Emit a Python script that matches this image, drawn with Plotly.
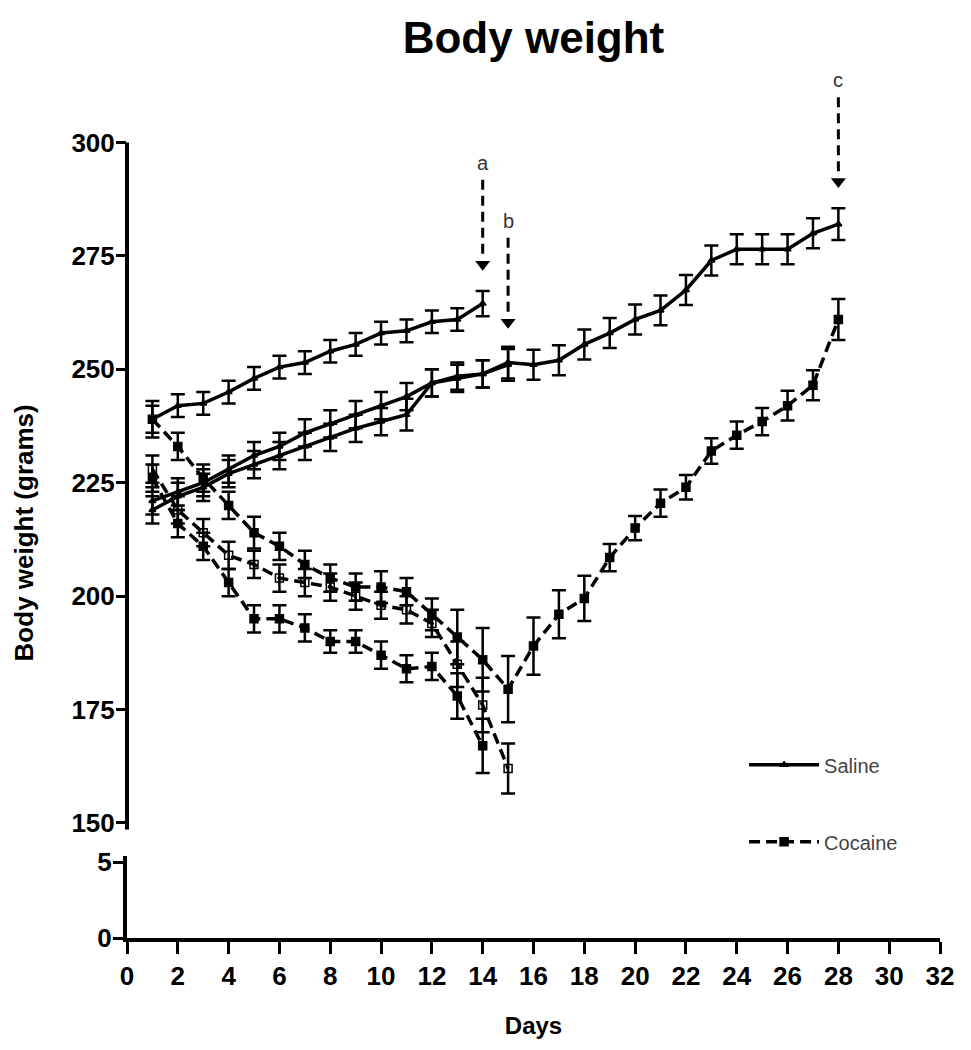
import plotly.graph_objects as go

# days on study
days = list(range(1, 29))

# saline groups: a (killed day 14), b (day 15), c (day 28)
saline_a = [239, 242, 242.5, 245, 248, 250.5, 251.5, 254, 255.5, 258, 258.5, 260.5, 261, 264.5]
saline_a_err = [3, 2.5, 2.5, 2.5, 2.5, 2.5, 2.5, 2.5, 2.5, 2.5, 2.5, 2.5, 2.5, 2.8]
saline_b = [221, 223, 225, 228, 231, 233, 236, 238, 240, 242, 244, 247, 248, 249, 251]
saline_b_err = [3, 3, 3, 3, 3, 3, 3, 3, 3, 3, 3, 3, 3, 3, 3.5]
saline_c = [219, 222, 224, 227, 229, 231, 233, 235, 237, 238.5, 240, 247, 248.5, 249, 251.5,
            251, 252, 255.5, 258, 261, 263, 267.5, 274, 276.5, 276.5, 276.5, 280, 282]
saline_c_err = [3, 3, 3, 3, 3, 3, 3, 3, 3, 3, 3.5, 3, 3, 3, 3.5,
                3.3, 3.3, 3.3, 3.3, 3.3, 3.3, 3.3, 3.3, 3.3, 3.3, 3.3, 3.3, 3.5]

# cocaine groups
cocaine_a = [226, 216, 211, 203, 195, 195, 193, 190, 190, 187, 184, 184.5, 178, 167]
cocaine_a_err = [3, 3, 3, 3, 3, 3, 3, 2.5, 2.5, 3, 3, 3, 5, 6]
cocaine_b = [228, 219, 214, 209, 207, 204, 203, 202, 200, 198, 197, 194, 185, 176, 162]
cocaine_b_err = [3, 3, 3, 3, 3, 3, 3, 3, 3, 3, 3, 3, 5, 6, 5.5]
cocaine_c = [239, 233, 226, 220, 214, 211, 207, 204, 202, 202, 201, 196, 191, 186, 179.5,
             189, 196, 199.5, 208.5, 215, 220.5, 224, 232, 235.5, 238.5, 242, 246.5, 261]
cocaine_c_err = [4, 3, 3, 3, 3.5, 3, 3, 3, 3, 3.5, 3, 3.5, 6, 7, 7.3,
                 6.3, 5.3, 5, 3, 2.7, 3, 2.7, 2.8, 3, 3, 3.3, 3.3, 4.5]

y_ticks_top = [150, 175, 200, 225, 250, 275, 300]
y_ticks_bottom = [0, 5]
arrow_labels = ["a", "b", "c"]

TICKFONT = dict(family="Liberation Sans, Arial", size=26, color="black", weight="bold")

fig = go.Figure()


def add_series(y, err, name, dash, symbol, msize, show, group):
    fig.add_trace(go.Scatter(
        x=days[:len(y)], y=y, name=name, legendgroup=group, showlegend=show,
        mode="lines+markers",
        line=dict(color="black", width=3.5, dash=dash),
        marker=dict(symbol=symbol, size=msize, color="black", line=dict(color="black", width=1.5)),
        error_y=dict(type="data", array=err, visible=True, thickness=2.5, width=7, color="black"),
        xaxis="x", yaxis="y", cliponaxis=False))


add_series(saline_a, saline_a_err, "Saline", "solid", "triangle-up", 6, True, "saline")
add_series(saline_b, saline_b_err, "Saline", "solid", "triangle-up", 6, False, "saline")
add_series(saline_c, saline_c_err, "Saline", "solid", "triangle-up", 6, False, "saline")
add_series(cocaine_a, cocaine_a_err, "Cocaine", "11px,6px", "square", 8, True, "cocaine")
add_series(cocaine_b, cocaine_b_err, "Cocaine", "11px,6px", "square-open", 8, False, "cocaine")
add_series(cocaine_c, cocaine_c_err, "Cocaine", "11px,6px", "square", 8, False, "cocaine")

# empty trace so the lower (0-5) panel and the Days axis get drawn
fig.add_trace(go.Scatter(x=[], y=[], xaxis="x2", yaxis="y2", showlegend=False, hoverinfo="skip"))

# dashed arrows pointing at the last day of each saline group
for lab, ys, es in zip(arrow_labels, [saline_a, saline_b, saline_c], [saline_a_err, saline_b_err, saline_c_err]):
    d = len(ys)
    tip = ys[-1] + es[-1] + 4.5
    tail = tip + 20
    fig.add_trace(go.Scatter(
        x=[d, d], y=[tail, tip + 3], mode="lines", showlegend=False, hoverinfo="skip",
        line=dict(color="black", width=3, dash="10px,6px"), xaxis="x", yaxis="y"))
    fig.add_trace(go.Scatter(
        x=[d], y=[tip + 1.4], mode="markers", showlegend=False, hoverinfo="skip",
        marker=dict(symbol="triangle-down", size=13, color="black"), xaxis="x", yaxis="y"))
    fig.add_annotation(x=d, y=tail + 3.8, xref="x", yref="y", text=lab, showarrow=False,
                       font=dict(family="Liberation Sans, Arial", size=20, color="#333"))

# top axis line only up to 300
fig.add_shape(type="line", xref="paper", yref="y", x0=0, x1=0, y0=148.5, y1=300,
              line=dict(color="black", width=4))

fig.add_annotation(x=-0.127, xanchor="center", y=214, xref="paper", yref="y",
                   text="Body weight (grams)", textangle=-90, showarrow=False,
                   font=dict(family="Liberation Sans, Arial", size=26, color="black", weight="bold"))

# the page body adds an 8px offset, so margins are shifted to compensate
fig.update_layout(
    width=971, height=1050,
    margin=dict(l=119, r=39, t=62, b=120),
    paper_bgcolor="white", plot_bgcolor="white",
    title=dict(text="Body weight", x=0.5, xref="paper", xanchor="center",
               y=1 - 30 / 1050, yanchor="middle",
               font=dict(family="Liberation Sans, Arial", size=44, color="black", weight="bold")),
    xaxis=dict(domain=[0, 1], anchor="y", range=[0, 32], showline=False, showticklabels=False,
               ticks="", showgrid=False, zeroline=False, matches="x2"),
    yaxis=dict(domain=[0.1247, 1], anchor="x", range=[148.5, 316], tickvals=y_ticks_top,
               ticks="outside", ticklen=10, tickwidth=3, tickcolor="black", showline=False,
               showgrid=False, zeroline=False, tickfont=TICKFONT, ticklabelstandoff=-4),
    xaxis2=dict(domain=[0, 1], anchor="y2", range=[0, 32], tick0=0, dtick=2,
                ticks="outside", ticklen=12, tickwidth=3, tickcolor="black",
                showline=True, linewidth=4, linecolor="black", showgrid=False, zeroline=False,
                tickfont=TICKFONT,
                title=dict(text="Days", standoff=28,
                           font=dict(family="Liberation Sans, Arial", size=24, color="black", weight="bold"))),
    yaxis2=dict(domain=[0, 0.0945], anchor="x2", range=[0, 5.4], tickvals=y_ticks_bottom,
                ticks="outside", ticklen=10, tickwidth=3, tickcolor="black",
                showline=True, linewidth=4, linecolor="black", showgrid=False, zeroline=False,
                tickfont=TICKFONT, ticklabelstandoff=-4),
    legend=dict(x=0.759, xanchor="left", y=0.222, yanchor="top", bgcolor="rgba(0,0,0,0)",
                itemwidth=70, tracegroupgap=48, traceorder="grouped",
                font=dict(family="Liberation Sans, Arial", size=20, color="#444")),
    showlegend=True,
)

fig.write_html("out.html")
